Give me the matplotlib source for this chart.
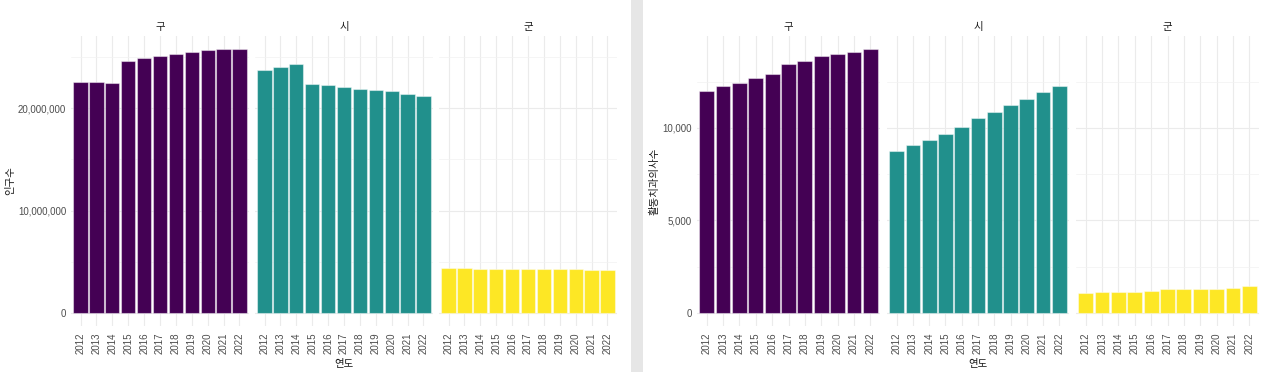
import matplotlib
matplotlib.use("Agg")
import matplotlib.pyplot as plt
from matplotlib.ticker import FuncFormatter, MultipleLocator
from matplotlib.patches import Rectangle

plt.rcParams['font.family'] = ['Liberation Sans', 'Noto Sans CJK KR', 'DejaVu Sans']

years = ['2012', '2013', '2014', '2015', '2016', '2017', '2018', '2019', '2020', '2021', '2022']
regions = ['구', '시', '군']
colors = ['#440154', '#21908C', '#FDE725']

pop_gu = [22.60e6, 22.60e6, 22.47e6, 24.59e6, 24.88e6, 25.11e6, 25.30e6, 25.50e6, 25.69e6, 25.79e6, 25.76e6]
pop_si = [23.74e6, 24.00e6, 24.33e6, 22.37e6, 22.28e6, 22.08e6, 21.89e6, 21.79e6, 21.69e6, 21.40e6, 21.20e6]
pop_gun = [4.42e6, 4.42e6, 4.26e6, 4.26e6, 4.33e6, 4.33e6, 4.33e6, 4.26e6, 4.26e6, 4.23e6, 4.23e6]

dent_gu = [11996, 12266, 12428, 12698, 12914, 13453, 13597, 13885, 13993, 14101, 14263]
dent_si = [8759, 9083, 9353, 9676, 10036, 10540, 10881, 11241, 11565, 11942, 12266]
dent_gun = [1097, 1115, 1115, 1115, 1205, 1277, 1277, 1313, 1313, 1367, 1439]

W, H = 1274, 372
fig = plt.figure(figsize=(W / 100, H / 100), dpi=100)
fig.patch.set_facecolor('white')

# gray separator between the two charts
fig.add_artist(Rectangle((631 / W, 0), 12 / W, 1, transform=fig.transFigure,
                         facecolor='#e6e6e6', edgecolor='none'))


def px_rect(x0, y0, x1, y1):
    return [x0 / W, 1 - y1 / H, (x1 - x0) / W, (y1 - y0) / H]


def facet_chart(series, panels, y0, y1, major, minor, ylabel, ylabel_x):
    vmax = max(max(s) for s in series)
    ylim = (-0.05 * vmax, 1.05 * vmax)
    axes = []
    for i, (vals, (x0, x1)) in enumerate(zip(series, panels)):
        ax = fig.add_axes(px_rect(x0, y0, x1, y1))
        ax.set_facecolor('white')
        xs = list(range(len(years)))
        ax.bar(xs, vals, width=0.9, color=colors[i],
               edgecolor=(1, 1, 1, 0.45), linewidth=0.8, zorder=3)
        ax.set_xlim(-0.6, len(years) - 0.4)
        ax.set_ylim(*ylim)
        ax.set_xticks(xs)
        ax.set_xticklabels(years, rotation=90, fontsize=7, color='#4d4d4d')
        ax.yaxis.set_major_locator(MultipleLocator(major))
        ax.yaxis.set_minor_locator(MultipleLocator(minor))
        ax.yaxis.set_major_formatter(FuncFormatter(lambda v, p: f"{v:,.0f}"))
        ax.tick_params(axis='both', which='both', length=0)
        ax.tick_params(axis='x', pad=4.5)
        ax.tick_params(axis='y', pad=3.5, labelsize=7, labelcolor='#4d4d4d')
        ax.grid(True, which='major', color='#ebebeb', linewidth=0.8, zorder=0)
        ax.grid(True, which='minor', axis='y', color='#f2f2f2', linewidth=0.5, zorder=0)
        ax.set_axisbelow(True)
        for s in ax.spines.values():
            s.set_visible(False)
        if i > 0:
            ax.set_yticklabels([])
        ax.set_title(regions[i], fontsize=7.5, color='#1a1a1a', pad=4)
        axes.append(ax)
    axes[0].set_ylabel(ylabel, fontsize=7.5, color='#1a1a1a')
    axes[0].yaxis.set_label_coords(
        (ylabel_x - panels[0][0]) / (panels[0][1] - panels[0][0]), 0.5)
    cx = (panels[0][0] + panels[-1][1]) / 2
    fig.text(cx / W, 1 - 364 / H, '연도', ha='center', va='center',
             fontsize=7.5, color='#1a1a1a')
    return axes


facet_chart([pop_gu, pop_si, pop_gun],
            [(71, 249), (255, 433), (439, 617)],
            36, 326, 10e6, 5e6, '인구수', 15)

facet_chart([dent_gu, dent_si, dent_gun],
            [(697, 880), (887, 1069), (1076, 1259)],
            36, 326, 5000, 2500, '활동치과의사수', 660)

fig.savefig('out.png', dpi=100, facecolor='white')
